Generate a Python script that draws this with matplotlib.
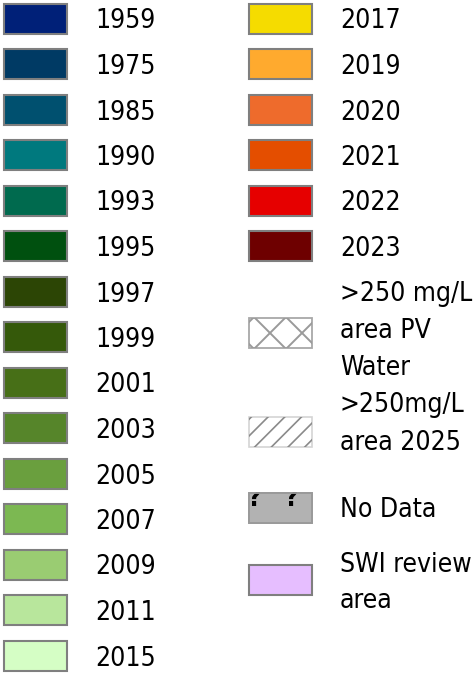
import matplotlib
matplotlib.use("Agg")
import matplotlib.pyplot as plt
from matplotlib.patches import Rectangle
import numpy as np

plt.rcParams['font.family'] = ['DejaVu Sans']
plt.rcParams['font.stretch'] = 'condensed'

# ---- data ----
left_labels = ["1959", "1975", "1985", "1990", "1993", "1995", "1997", "1999",
               "2001", "2003", "2005", "2007", "2009", "2011", "2015"]
left_colors = ["#002078", "#003A64", "#00506F", "#00797E", "#006A4E", "#00500F",
               "#2C4505", "#35590A", "#476F17", "#56852A", "#6A9F3E", "#7CB852",
               "#9ACC72", "#B8E69C", "#D5FEC5"]
right_labels = ["2017", "2019", "2020", "2021", "2022", "2023"]
right_colors = ["#F5DC00", "#FFAA2E", "#EE6B2C", "#E44E00", "#E60000", "#6E0000"]
special_labels = [">250 mg/L\narea PV\nWater", ">250mg/L\narea 2025", "No Data", "SWI review\narea"]
special_kinds = ["crosshatch", "diaghatch", "nodata", "solid"]
special_colors = ["white", "white", "#B2B2B2", "#E6BEFF"]

W, H = 474, 673
fig = plt.figure(figsize=(W / 100, H / 100), dpi=100)
ax = fig.add_axes([0, 0, 1, 1])
ax.set_xlim(0, W)
ax.set_ylim(H, 0)
ax.axis("off")

FS = 19
PITCH = 37
CAP = 20
row0, step = 18.5, 45.5
bw, bh = 63, 30
edge = "#7F7F7F"


def label(x, yc, text):
    lines = text.split("\n")
    n = len(lines)
    for k, ln in enumerate(lines):
        y = yc + (k - (n - 1) / 2) * PITCH
        ax.text(x, y + CAP / 2, ln, fontsize=FS, color="black", va="baseline",
                ha="left", fontstretch="condensed")


def box(x0, yc, fc, ec=edge, lw=1.5, z=2):
    r = Rectangle((x0, yc - bh / 2), bw, bh, facecolor=fc, edgecolor=ec, linewidth=lw, zorder=z)
    ax.add_patch(r)
    return r


for i, (lab, col) in enumerate(zip(left_labels, left_colors)):
    yc = row0 + step * i
    box(4, yc, col)
    label(95, yc, lab)

for i, (lab, col) in enumerate(zip(right_labels, right_colors)):
    yc = row0 + step * i
    box(249, yc, col)
    label(340, yc, lab)

box_centers = [333, 432, 508, 580]
text_centers = [328, 421, 507, 580]
for lab, kind, col, yc, tc in zip(special_labels, special_kinds, special_colors,
                                  box_centers, text_centers):
    x0 = 249
    if kind == "crosshatch":
        r = box(x0, yc, col, ec="#A8A8A8", lw=1.3)
        sp = 32
        cx = x0 + 21
        for c in np.arange(-4, 5) * sp:
            xs = np.array([x0 - 40, x0 + bw + 40])
            l1, = ax.plot(xs, yc + (xs - cx - c), color="#9A9A9A", lw=1.4, zorder=3)
            l2, = ax.plot(xs, yc - (xs - cx - c), color="#9A9A9A", lw=1.4, zorder=3)
            l1.set_clip_path(r)
            l2.set_clip_path(r)
    elif kind == "diaghatch":
        r = box(x0, yc, col, ec="#D4D4D4", lw=1.2)
        sp = 16.7
        for c in np.arange(-3, 8) * sp:
            xs = np.array([x0 - 40, x0 + bw + 40])
            l, = ax.plot(xs, yc - (xs - x0 - 4 - c), color="#8A8A8A", lw=1.2, zorder=3)
            l.set_clip_path(r)
    elif kind == "nodata":
        r = box(x0, yc, col, ec="#9A9A9A", lw=1.3)
        top = yc - bh / 2
        for qx in (x0 + 5, x0 + 42):
            ax.text(qx, top + 13, "?", fontsize=19, fontweight="bold",
                    color="black", ha="center", va="baseline", zorder=4,
                    family="DejaVu Sans", fontstretch="condensed", clip_on=True)
        # white mask above box hides the upper part of the marks
        ax.add_patch(Rectangle((x0 - 6, top - 25), bw + 12, 25 - 0.8,
                               facecolor="white", edgecolor="none", zorder=5))
        ax.add_patch(Rectangle((x0, top), bw, bh, facecolor="none",
                               edgecolor="#9A9A9A", linewidth=1.3, zorder=6))
    else:
        box(x0, yc, col)
    label(340, tc, lab)

fig.savefig("out.png", dpi=100)
